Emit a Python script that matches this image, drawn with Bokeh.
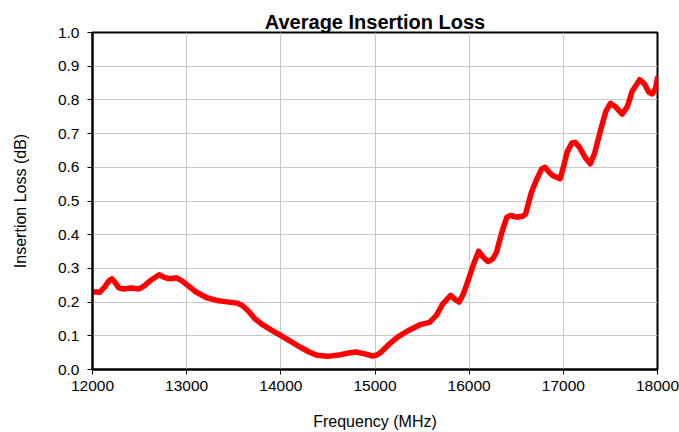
from bokeh.plotting import figure
from bokeh.embed import file_html
from bokeh.resources import INLINE
from bokeh.models import FixedTicker, Range1d, ColumnDataSource

freq_mhz = [12000, 12075, 12130, 12170, 12206, 12240, 12280, 12324, 12413, 12494,
            12550, 12620, 12708, 12760, 12804, 12850, 12893, 12950, 13000, 13100,
            13213, 13320, 13450, 13534, 13590, 13650, 13720, 13800, 13900, 13996,
            14100, 14209, 14300, 14387, 14494, 14636, 14720, 14796, 14880, 14974,
            15020, 15063, 15150, 15240, 15350, 15490, 15579, 15650, 15720, 15803,
            15850, 15892, 15940, 15988, 16050, 16101, 16150, 16201, 16250, 16290,
            16350, 16400, 16440, 16503, 16570, 16600, 16660, 16718, 16770, 16806,
            16850, 16890, 16966, 17000, 17040, 17090, 17126, 17170, 17230, 17286,
            17330, 17400, 17450, 17500, 17560, 17625, 17680, 17730, 17810, 17860,
            17910, 17945, 17980, 18000]
insertion_loss_db = [0.231, 0.229, 0.245, 0.262, 0.269, 0.258, 0.242, 0.239, 0.242, 0.239,
                     0.248, 0.265, 0.281, 0.274, 0.270, 0.270, 0.272, 0.263, 0.252, 0.230,
                     0.213, 0.205, 0.200, 0.197, 0.190, 0.175, 0.152, 0.134, 0.117, 0.101,
                     0.084, 0.066, 0.052, 0.042, 0.039, 0.044, 0.049, 0.052, 0.047, 0.040,
                     0.043, 0.051, 0.075, 0.096, 0.115, 0.134, 0.140, 0.160, 0.195, 0.220,
                     0.208, 0.200, 0.225, 0.264, 0.315, 0.351, 0.333, 0.320, 0.328, 0.348,
                     0.410, 0.452, 0.457, 0.452, 0.455, 0.462, 0.525, 0.565, 0.595, 0.600,
                     0.585, 0.575, 0.566, 0.600, 0.645, 0.672, 0.674, 0.660, 0.630, 0.610,
                     0.640, 0.715, 0.765, 0.790, 0.778, 0.758, 0.780, 0.825, 0.860, 0.848,
                     0.822, 0.818, 0.835, 0.865]

x_ticks = [12000, 13000, 14000, 15000, 16000, 17000, 18000]
y_ticks = [0.0, 0.1, 0.2, 0.3, 0.4, 0.5, 0.6, 0.7, 0.8, 0.9, 1.0]

src = ColumnDataSource(data=dict(f=freq_mhz, il=insertion_loss_db))

p = figure(width=679, height=432, output_backend="svg", toolbar_location=None,
           title="Average Insertion Loss",
           x_range=Range1d(12000, 18000), y_range=Range1d(0.0, 1.0),
           min_border_left=92, min_border_right=22, min_border_top=32, min_border_bottom=63)

p.title.align = "center"
p.title.text_font = "Liberation Sans"
p.title.text_font_size = "20px"
p.title.text_font_style = "bold"
p.title.text_color = "black"
p.title.offset = 0
p.title.standoff = 0

p.line("f", "il", source=src, line_color="#FF0000", line_width=5.5, line_join="round", line_cap="round")

p.outline_line_color = "black"
p.outline_line_width = 2
p.outline_line_alpha = 1.0

for ax in (p.xaxis[0], p.yaxis[0]):
    ax.axis_line_color = "black"
    ax.axis_line_width = 2
    ax.major_tick_line_color = "black"
    ax.major_tick_out = 5
    ax.major_tick_in = 0
    ax.minor_tick_line_color = None
    ax.major_label_text_font = "Liberation Sans"
    ax.major_label_text_font_size = "15.5px"
    ax.major_label_text_color = "black"
    ax.axis_label_text_font = "Liberation Sans"
    ax.axis_label_text_font_size = "16px"
    ax.axis_label_text_font_style = "normal"
    ax.axis_label_text_color = "black"

p.xaxis.ticker = FixedTicker(ticks=x_ticks)
p.yaxis.ticker = FixedTicker(ticks=y_ticks)
p.xaxis.major_label_overrides = {t: str(t) for t in x_ticks}
p.yaxis.major_label_overrides = {t: f"{t:.1f}" for t in y_ticks}
p.xaxis.axis_label = "Frequency (MHz)"
p.yaxis.axis_label = "Insertion Loss (dB)"
p.xaxis.major_label_standoff = 6
p.yaxis.major_label_standoff = 8
p.xaxis.axis_label_standoff = 19
p.yaxis.axis_label_standoff = 26

p.xgrid.ticker = FixedTicker(ticks=x_ticks)
p.ygrid.ticker = FixedTicker(ticks=y_ticks)
p.grid.grid_line_color = "#C8C8C8"
p.grid.grid_line_width = 1

p.background_fill_color = "white"
p.border_fill_color = "white"

open("out.html", "w").write(file_html(p, INLINE))
